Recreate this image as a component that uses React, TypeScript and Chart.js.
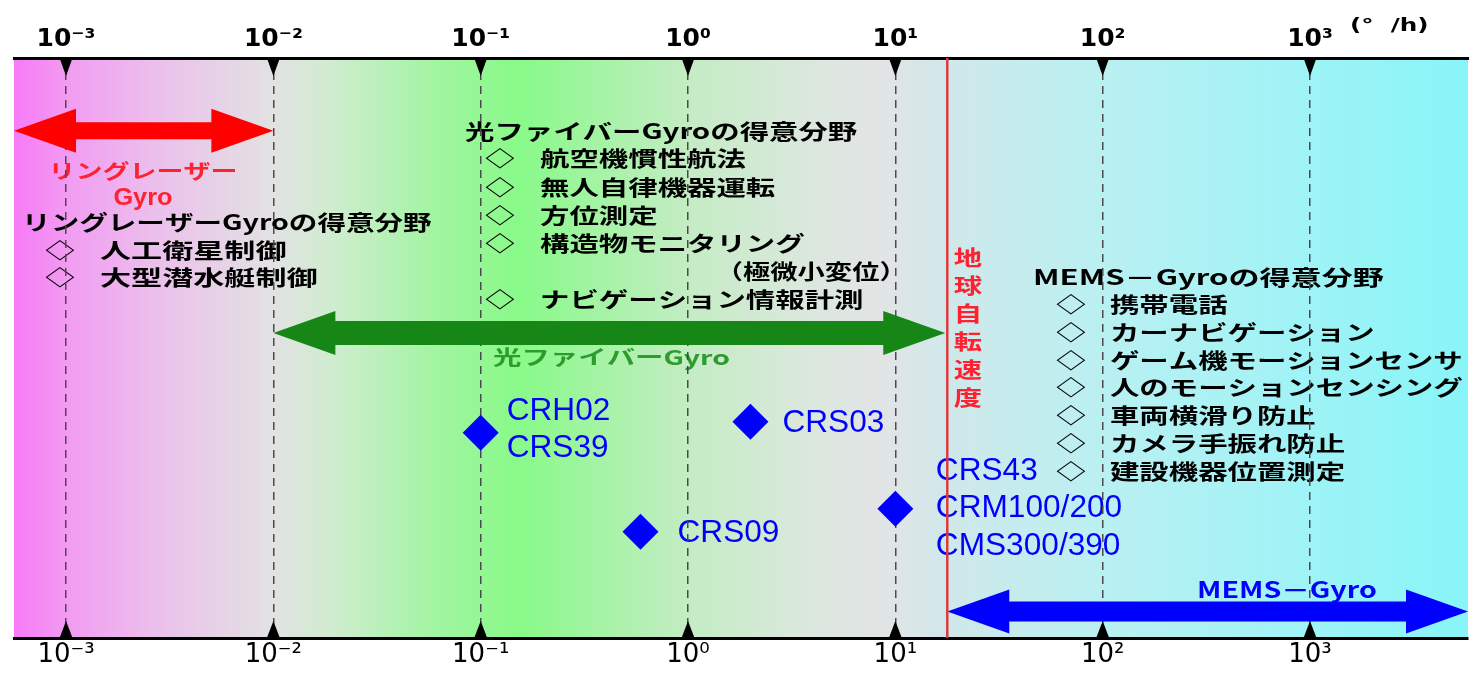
import React, { useEffect, useRef } from "react";
import { Chart, registerables } from "chart.js";

Chart.register(...registerables);

// ---------- data ----------
const X_MIN = 10 ** -3.251;
const X_MAX = 10 ** 3.762;
const DECADES = [1e-3, 1e-2, 1e-1, 1, 10, 100, 1000];
const TICK_LABELS = ["10⁻³", "10⁻²", "10⁻¹", "10⁰", "10¹", "10²", "10³"];
const UNIT_LABEL = "(°  /h)";
const EARTH_RATE = 17.8;
const EARTH_LABEL = "地球自転速度";

const PRODUCT_X = [0.1, 2.0, 0.59, 10];
const PRODUCT_Y = [35.4, 37.3, 18.3, 22.3];
const PRODUCT_NAMES = [
  ["CRH02", "CRS39"],
  ["CRS03"],
  ["CRS09"],
  ["CRS43", "CRM100/200", "CMS300/390"],
];

const RANGE_FROM = [X_MIN, 0.01, EARTH_RATE];
const RANGE_TO = [0.01, EARTH_RATE, X_MAX];
const RANGE_LABELS = [["リングレーザー", "Gyro"], ["光ファイバーGyro"], ["MEMS－Gyro"]];

const RLG_TITLE = "リングレーザーGyroの得意分野";
const RLG_USES = ["人工衛星制御", "大型潜水艇制御"];
const FOG_TITLE = "光ファイバーGyroの得意分野";
const FOG_USES = ["航空機慣性航法", "無人自律機器運転", "方位測定", "構造物モニタリング", "ナビゲーション情報計測"];
const FOG_NOTE = "（極微小変位）";
const MEMS_TITLE = "MEMS－Gyroの得意分野";
const MEMS_USES = [
  "携帯電話",
  "カーナビゲーション",
  "ゲーム機モーションセンサ",
  "人のモーションセンシング",
  "車両横滑り防止",
  "カメラ手振れ防止",
  "建設機器位置測定",
];

// ---------- styles ----------
const JP_BOLD = 'bold 21px "Noto Sans CJK JP"';
const SX = 1.4;
const BLUE = "#0000ff";
const RED_TEXT = "#ff2030";
const GREEN_TEXT = "#2e9b2e";

function drawText(
  ctx: CanvasRenderingContext2D,
  text: string,
  x: number,
  y: number,
  font: string,
  color: string,
  sx: number,
  align: "left" | "center" | "right" = "left"
) {
  ctx.save();
  ctx.font = font;
  ctx.fillStyle = color;
  ctx.textBaseline = "middle";
  ctx.textAlign = "left";
  const w = ctx.measureText(text).width * sx;
  let x0 = x;
  if (align === "center") x0 = x - w / 2;
  else if (align === "right") x0 = x - w;
  ctx.translate(x0, y);
  ctx.scale(sx, 1);
  ctx.fillText(text, 0, 0);
  ctx.restore();
}

function drawDoubleArrow(
  ctx: CanvasRenderingContext2D,
  x1: number,
  x2: number,
  y: number,
  shaft: number,
  headH: number,
  headL: number,
  color: string
) {
  ctx.save();
  ctx.fillStyle = color;
  ctx.beginPath();
  ctx.moveTo(x1, y);
  ctx.lineTo(x1 + headL, y - headH / 2);
  ctx.lineTo(x1 + headL, y - shaft / 2);
  ctx.lineTo(x2 - headL, y - shaft / 2);
  ctx.lineTo(x2 - headL, y - headH / 2);
  ctx.lineTo(x2, y);
  ctx.lineTo(x2 - headL, y + headH / 2);
  ctx.lineTo(x2 - headL, y + shaft / 2);
  ctx.lineTo(x1 + headL, y + shaft / 2);
  ctx.lineTo(x1 + headL, y + headH / 2);
  ctx.closePath();
  ctx.fill();
  ctx.restore();
}

const backgroundPlugin = {
  id: "gyroBackground",
  beforeDraw(chart: any) {
    const { ctx, chartArea: a, scales } = chart;
    const xs = scales.x;
    const ys = scales.y;
    const P = (lx: number, v: number) => ({ x: xs.getPixelForValue(10 ** lx), y: ys.getPixelForValue(v) });

    // gradient background
    const g = ctx.createLinearGradient(a.left, 0, a.right, 0);
    const stops: [number, string][] = [
      [0, "rgb(247,122,247)"],
      [0.036, "rgb(242,155,242)"],
      [0.094, "rgb(236,190,236)"],
      [0.178, "rgb(226,226,226)"],
      [0.218, "rgb(208,236,208)"],
      [0.293, "rgb(160,245,160)"],
      [0.348, "rgb(136,250,136)"],
      [0.403, "rgb(165,243,165)"],
      [0.464, "rgb(196,236,196)"],
      [0.541, "rgb(218,232,220)"],
      [0.596, "rgb(226,228,229)"],
      [0.642, "rgb(208,232,234)"],
      [0.748, "rgb(186,240,242)"],
      [0.884, "rgb(160,243,246)"],
      [1, "rgb(136,245,248)"],
    ];
    stops.forEach(([f, c]) => g.addColorStop(f, c));
    ctx.save();
    ctx.fillStyle = g;
    ctx.fillRect(a.left, a.top, a.right - a.left, a.bottom - a.top);
    ctx.restore();

    // unit
    const u = P(3.193, 105.5);
    drawText(ctx, UNIT_LABEL, u.x, u.y, 'bold 17px "DejaVu Sans"', "#000", 1.45);

    // ring laser group
    let p = P(-2.629, 80.52);
    drawText(ctx, RANGE_LABELS[0][0], p.x, p.y, 'bold 20px "Noto Sans CJK JP"', RED_TEXT, 1.35, "center");
    p = P(-2.629, 75.69);
    drawText(ctx, RANGE_LABELS[0][1], p.x, p.y, 'bold 23px "Liberation Sans"', RED_TEXT, 1.1, "center");
    p = P(-3.212, 71.64);
    drawText(ctx, RLG_TITLE, p.x, p.y, JP_BOLD, "#000", 1.36);
    RLG_USES.forEach((t, i) => {
      const v = 66.9 - i * 4.74;
      const d = P(-3.029, v);
      drawText(ctx, "◇", d.x, d.y, JP_BOLD, "#000", SX, "center");
      const q = P(-2.836, v);
      drawText(ctx, t, q.x, q.y, JP_BOLD, "#000", 1.48);
    });

    // fiber optic group
    p = P(-1.0756, 87.41);
    drawText(ctx, FOG_TITLE, p.x, p.y, JP_BOLD, "#000", SX);
    const fogRows = [0, 1, 2, 3, 5];
    FOG_USES.forEach((t, i) => {
      const v = 82.67 - fogRows[i] * 4.828;
      const d = P(-0.9068, v);
      drawText(ctx, "◇", d.x, d.y, JP_BOLD, "#000", SX, "center");
      const q = P(-0.7138, v);
      drawText(ctx, t, q.x, q.y, JP_BOLD, "#000", SX);
    });
    p = P(1.055, 82.67 - 4 * 4.828);
    drawText(ctx, FOG_NOTE, p.x, p.y, JP_BOLD, "#000", 1.3, "right");
    p = P(-0.9405, 48.45);
    drawText(ctx, RANGE_LABELS[1][0], p.x, p.y, 'bold 20px "Noto Sans CJK JP"', GREEN_TEXT, 1.42);

    // earth rotation label
    Array.from(EARTH_LABEL).forEach((ch, i) => {
      const q = P(1.3505, 65.69 - i * 4.828);
      drawText(ctx, ch, q.x, q.y, 'bold 21px "Noto Sans CJK JP"', RED_TEXT, 1.35, "center");
    });

    // MEMS group
    p = P(1.664, 62.16);
    drawText(ctx, MEMS_TITLE, p.x, p.y, JP_BOLD, "#000", 1.48);
    MEMS_USES.forEach((t, i) => {
      const v = 57.59 - i * 4.798;
      const d = P(1.847, v);
      drawText(ctx, "◇", d.x, d.y, JP_BOLD, "#000", SX, "center");
      const q = P(2.035, v);
      drawText(ctx, t, q.x, q.y, JP_BOLD, "#000", SX);
    });
    p = P(2.455, 8.28);
    drawText(ctx, RANGE_LABELS[2][0], p.x, p.y, 'bold 22px "Noto Sans CJK JP"', BLUE, 1.3);

    // product labels
    const offsets = [
      { dx: 26, dy: -21.7 },
      { dx: 32, dy: 1.8 },
      { dx: 37, dy: 1.5 },
      { dx: 40.5, dy: -37.5 },
    ];
    PRODUCT_X.forEach((xv, i) => {
      const px = xs.getPixelForValue(xv);
      const py = ys.getPixelForValue(PRODUCT_Y[i]);
      PRODUCT_NAMES[i].forEach((name, j) => {
        drawText(ctx, name, px + offsets[i].dx, py + offsets[i].dy + j * 37.5, '31px "Liberation Sans"', BLUE, 1.02);
      });
    });
  },
  afterDraw(chart: any) {
    const { ctx, chartArea: a, scales } = chart;
    const xs = scales.x;
    const ys = scales.y;
    const arrowY = [87.47, 52.59, 4.57];
    const shafts = [17, 24, 20];
    const colors = ["#ff0000", "#168616", "#0000ff"];
    RANGE_FROM.forEach((f, i) => {
      drawDoubleArrow(
        ctx,
        xs.getPixelForValue(f),
        xs.getPixelForValue(RANGE_TO[i]) - (i === 1 ? 2 : 0),
        ys.getPixelForValue(arrowY[i]),
        shafts[i],
        44,
        62,
        colors[i]
      );
    });

    // earth rotation rate line
    const ex = xs.getPixelForValue(EARTH_RATE);
    ctx.save();
    ctx.strokeStyle = "#dc3a3f";
    ctx.lineWidth = 2.5;
    ctx.beginPath();
    ctx.moveTo(ex, a.top);
    ctx.lineTo(ex, a.bottom);
    ctx.stroke();
    ctx.restore();

    // tick triangles
    ctx.save();
    ctx.fillStyle = "#000";
    DECADES.forEach((d) => {
      const x = xs.getPixelForValue(d);
      ctx.beginPath();
      ctx.moveTo(x - 6.5, a.top);
      ctx.lineTo(x + 6.5, a.top);
      ctx.lineTo(x, a.top + 18);
      ctx.closePath();
      ctx.fill();
      ctx.beginPath();
      ctx.moveTo(x - 6.5, a.bottom);
      ctx.lineTo(x + 6.5, a.bottom);
      ctx.lineTo(x, a.bottom - 17);
      ctx.closePath();
      ctx.fill();
    });
    ctx.restore();
  },
};

const decadeTicks = (scale: any) => {
  scale.ticks = DECADES.map((v) => ({ value: v }));
};

export default function App() {
  const ref = useRef<HTMLCanvasElement>(null);
  useEffect(() => {
    if (!ref.current) return;
    const chart = new Chart(ref.current, {
      type: "scatter",
      data: {
        datasets: [
          {
            data: PRODUCT_X.map((x, i) => ({ x, y: PRODUCT_Y[i] })),
            pointStyle: "rectRot",
            pointRadius: 18,
            pointHoverRadius: 18,
            backgroundColor: BLUE,
            borderColor: BLUE,
            borderWidth: 0,
          },
        ],
      },
      options: {
        animation: false,
        responsive: false,
        events: [],
        layout: { padding: { left: 14, right: 9, top: 0, bottom: 0 }, autoPadding: false },
        plugins: { legend: { display: false }, tooltip: { enabled: false } },
        scales: {
          x: {
            type: "logarithmic",
            position: "bottom",
            min: X_MIN,
            max: X_MAX,
            afterBuildTicks: decadeTicks,
            afterFit: (s: any) => {
              s.height = 37;
            },
            grid: { display: true, color: "#4a4a4a", lineWidth: 1.5, drawTicks: false },
            border: { display: true, color: "#000", width: 3, dash: [8, 6] },
            ticks: {
              autoSkip: false,
              maxRotation: 0,
              padding: 2,
              color: "#000",
              font: { family: "DejaVu Sans", size: 26 },
              callback: (_v: any, i: number) => TICK_LABELS[i] ?? "",
            },
          },
          x2: {
            type: "logarithmic",
            position: "top",
            min: X_MIN,
            max: X_MAX,
            afterBuildTicks: decadeTicks,
            afterFit: (s: any) => {
              s.height = 58;
            },
            grid: { display: false, drawTicks: false },
            border: { display: true, color: "#000", width: 3 },
            ticks: {
              autoSkip: false,
              maxRotation: 0,
              padding: 4,
              color: "#000",
              font: { family: "DejaVu Sans", size: 25, weight: "bold" },
              callback: (_v: any, i: number) => TICK_LABELS[i] ?? "",
            },
          },
          y: { type: "linear", min: 0, max: 100, display: false },
        },
      } as any,
      plugins: [backgroundPlugin],
    });
    return () => chart.destroy();
  }, []);
  return (
    <div style={{ position: "fixed", left: 0, top: 0, width: 1477, height: 675, background: "#fff" }}>
      <canvas ref={ref} width={1477} height={675} style={{ display: "block", width: 1477, height: 675 }} />
    </div>
  );
}
